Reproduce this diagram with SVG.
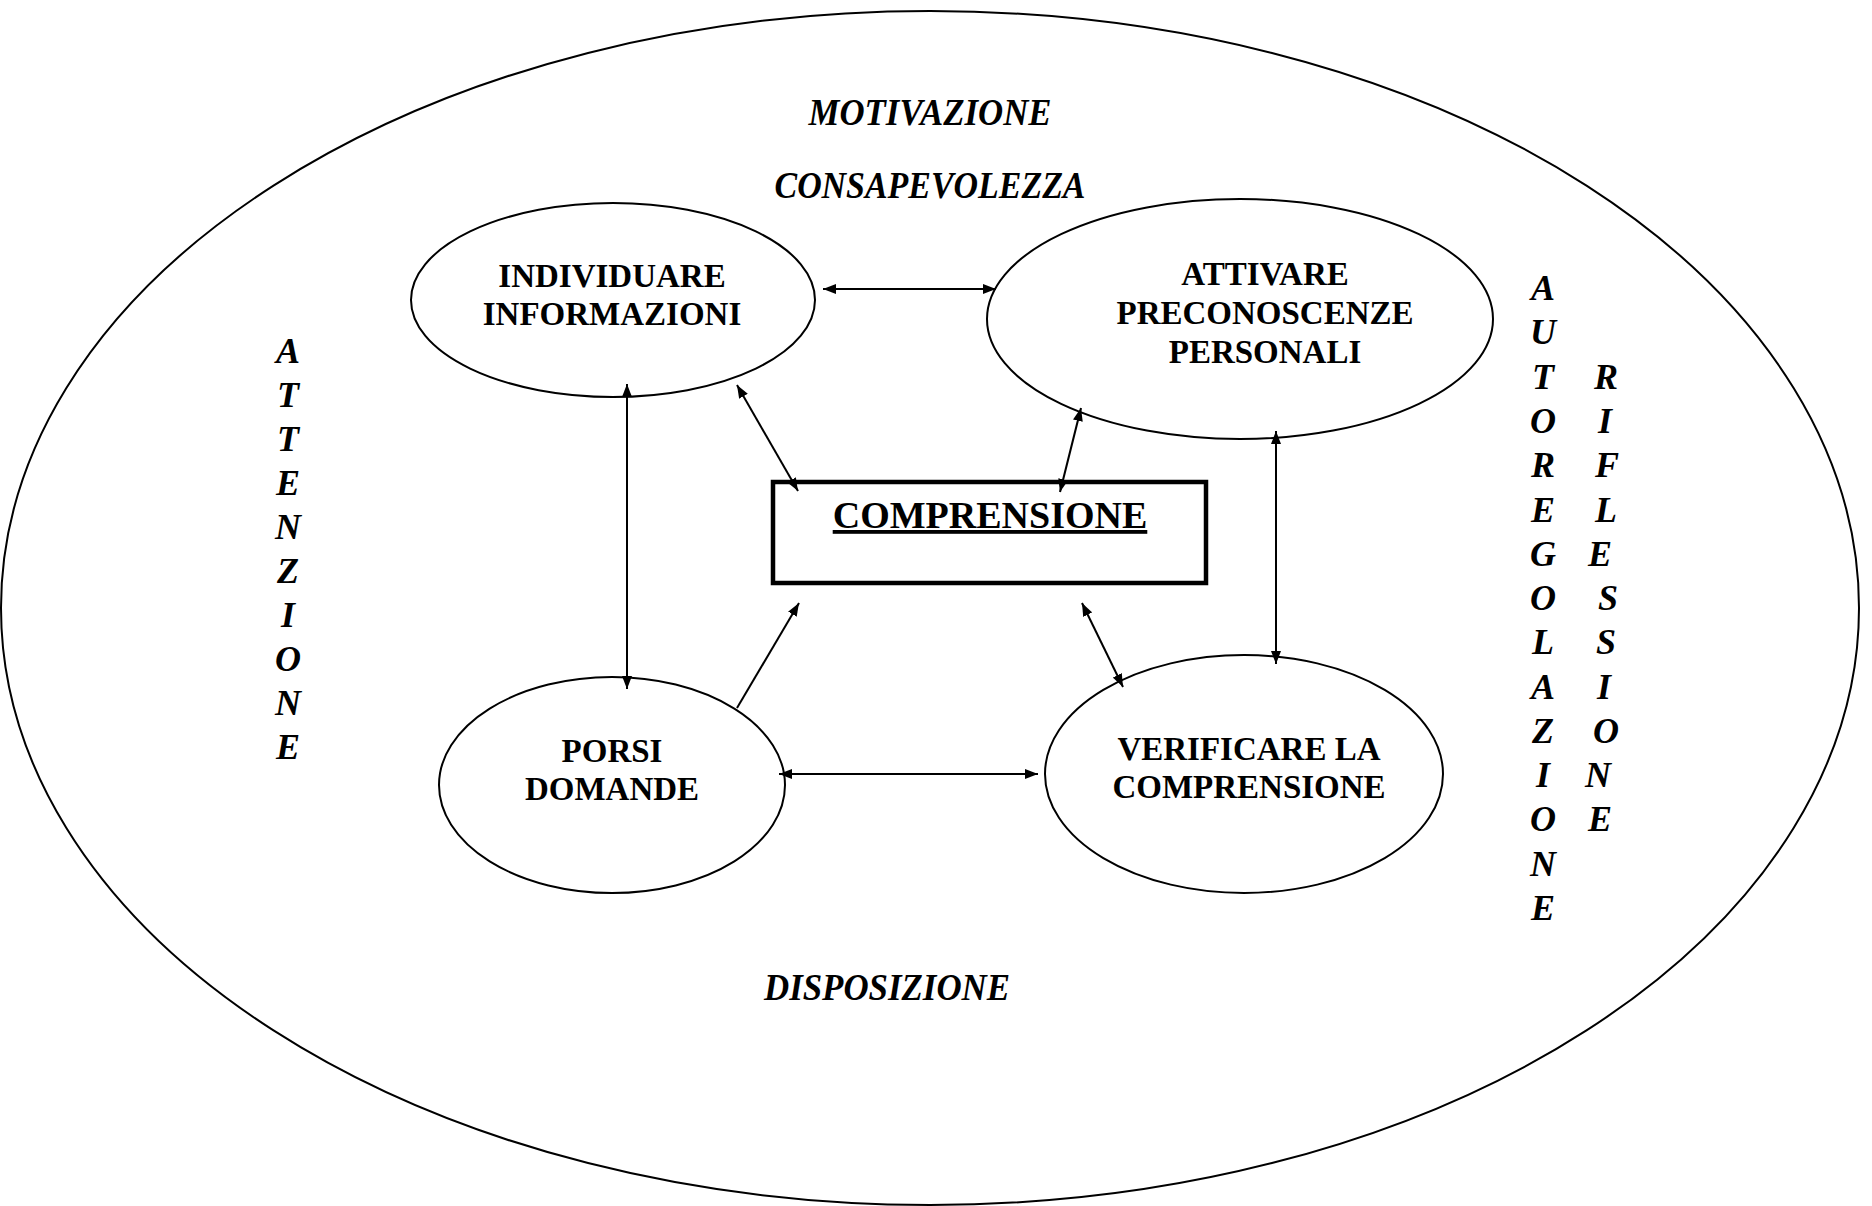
<svg xmlns="http://www.w3.org/2000/svg" width="1872" height="1206" viewBox="0 0 1872 1206">
<style>
.shape{fill:none;stroke:#000;stroke-width:2}
.box{fill:none;stroke:#000;stroke-width:4.5}
.node{font-family:"Liberation Serif","Times New Roman",serif;font-weight:bold;font-size:33px;text-anchor:middle;fill:#000}
.lab{font-family:"Liberation Serif","Times New Roman",serif;font-weight:bold;font-style:italic;font-size:37px;text-anchor:middle;fill:#000}
.vert{font-family:"Liberation Serif","Times New Roman",serif;font-weight:bold;font-style:italic;font-size:36px;text-anchor:middle;fill:#000}
.conn line{stroke:#000;stroke-width:2}
</style>
<defs>
<marker id="ah" viewBox="0 0 13 10" refX="13" refY="5" markerWidth="13" markerHeight="10" markerUnits="userSpaceOnUse" orient="auto-start-reverse">
<path d="M0,0 L13,5 L0,10 z" fill="#000"/>
</marker>
</defs>
<rect width="1872" height="1206" fill="#fff"/>
<g id="outer">
<ellipse class="shape" cx="930" cy="608" rx="929" ry="597"/>
</g>
<g id="labels">
<text class="lab" x="930" y="125" textLength="243" lengthAdjust="spacingAndGlyphs">MOTIVAZIONE</text>
<text class="lab" x="930" y="198" textLength="311" lengthAdjust="spacingAndGlyphs">CONSAPEVOLEZZA</text>
<text class="lab" x="887" y="1000" textLength="246" lengthAdjust="spacingAndGlyphs">DISPOSIZIONE</text>
</g>
<g id="attenzione" class="vert">
<text x="288" y="363">A</text>
<text x="288" y="407">T</text>
<text x="288" y="451">T</text>
<text x="288" y="495">E</text>
<text x="288" y="539">N</text>
<text x="288" y="583">Z</text>
<text x="288" y="627">I</text>
<text x="288" y="671">O</text>
<text x="288" y="715">N</text>
<text x="288" y="759">E</text>
</g>
<g id="autoregolazione" class="vert">
<text x="1543" y="300">A</text>
<text x="1543" y="344">U</text>
<text x="1543" y="389">T</text>
<text x="1543" y="433">O</text>
<text x="1543" y="477">R</text>
<text x="1543" y="522">E</text>
<text x="1543" y="566">G</text>
<text x="1543" y="610">O</text>
<text x="1543" y="654">L</text>
<text x="1543" y="699">A</text>
<text x="1543" y="743">Z</text>
<text x="1543" y="787">I</text>
<text x="1543" y="831">O</text>
<text x="1543" y="876">N</text>
<text x="1543" y="920">E</text>
</g>
<g id="riflessione" class="vert">
<text x="1606" y="389">R</text>
<text x="1605" y="433">I</text>
<text x="1607" y="477">F</text>
<text x="1606" y="522">L</text>
<text x="1600" y="566">E</text>
<text x="1608" y="610">S</text>
<text x="1606" y="654">S</text>
<text x="1604" y="699">I</text>
<text x="1606" y="743">O</text>
<text x="1598" y="787">N</text>
<text x="1600" y="831">E</text>
</g>
<g id="individuare">
<ellipse class="shape" cx="613" cy="300" rx="202" ry="97"/>
<text class="node" x="612" y="287">INDIVIDUARE</text>
<text class="node" x="612" y="325">INFORMAZIONI</text>
</g>
<g id="attivare">
<ellipse class="shape" cx="1240" cy="319" rx="253" ry="120"/>
<text class="node" x="1265" y="285">ATTIVARE</text>
<text class="node" x="1265" y="324">PRECONOSCENZE</text>
<text class="node" x="1265" y="363">PERSONALI</text>
</g>
<g id="porsi">
<ellipse class="shape" cx="612" cy="785" rx="173" ry="108"/>
<text class="node" x="612" y="762">PORSI</text>
<text class="node" x="612" y="800">DOMANDE</text>
</g>
<g id="verificare">
<ellipse class="shape" cx="1244" cy="774" rx="199" ry="119"/>
<text class="node" x="1249" y="760">VERIFICARE LA</text>
<text class="node" x="1249" y="798">COMPRENSIONE</text>
</g>
<g id="comprensione">
<rect class="box" x="773" y="482" width="433" height="101"/>
<text class="node" x="990" y="528" style="font-size:38px" text-decoration="underline">COMPRENSIONE</text>
</g>
<g id="connectors" class="conn">
<line x1="823" y1="289" x2="996" y2="289" marker-start="url(#ah)" marker-end="url(#ah)"/>
<line x1="627" y1="384" x2="627" y2="689" marker-start="url(#ah)" marker-end="url(#ah)"/>
<line x1="737" y1="385" x2="798" y2="491" marker-start="url(#ah)" marker-end="url(#ah)"/>
<line x1="1081" y1="408" x2="1060" y2="492" marker-start="url(#ah)" marker-end="url(#ah)"/>
<line x1="1276" y1="431" x2="1276" y2="664" marker-start="url(#ah)" marker-end="url(#ah)"/>
<line x1="737" y1="708" x2="799" y2="603" marker-end="url(#ah)"/>
<line x1="1082" y1="603" x2="1123" y2="687" marker-start="url(#ah)" marker-end="url(#ah)"/>
<line x1="779" y1="774" x2="1038" y2="774" marker-start="url(#ah)" marker-end="url(#ah)"/>
</g>
</svg>
